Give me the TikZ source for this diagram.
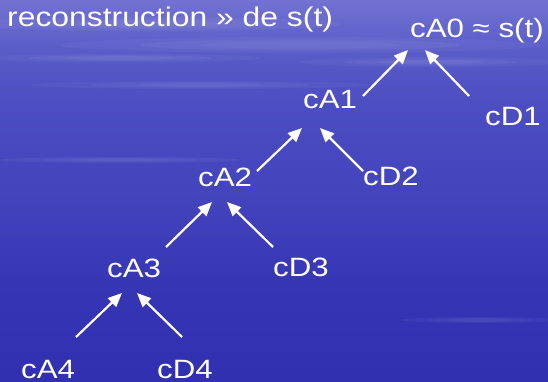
\documentclass[tikz,border=0pt]{standalone}
\usepackage{fontspec}
\setmainfont{Liberation Sans}
\usetikzlibrary{arrows.meta}
\definecolor{bgA}{HTML}{3030B0}
\definecolor{bgB}{HTML}{3434B4}
\definecolor{bgC}{HTML}{4343BC}
\definecolor{bgD}{HTML}{4C4EC2}
\definecolor{bgE}{HTML}{5A5CC8}
\definecolor{bgF}{HTML}{7272D2}
\pgfdeclareverticalshading{bgshade}{100bp}{color(0bp)=(bgA); color(25bp)=(bgA); color(35.7bp)=(bgB); color(48.8bp)=(bgC); color(61.9bp)=(bgD); color(68.5bp)=(bgE); color(75bp)=(bgF); color(100bp)=(bgF)}
\newcommand\sx[1]{\scalebox{1.18}[1]{#1}}
\tikzset{
  lbl/.style={text=white, inner sep=0pt, anchor=base west, font=\fontsize{26.5}{30}\selectfont},
  ttl/.style={text=white, inner sep=0pt, anchor=base west, font=\fontsize{27}{31}\selectfont},
  arr/.style={draw=white, line width=2.2pt, -{Triangle[length=14pt,width=12pt]}},
  streak/.style={fill=white, fill opacity=0.04, draw=none}
}
\begin{document}
\begin{tikzpicture}[x=1pt,y=-1pt]
\useasboundingbox (0,0) rectangle (548,382);
\shade[shading=bgshade] (0,0) rectangle (548,382);
% faint streaks
\foreach \s in {1,0.6,0.3}{
  \fill[streak] (300,45) ellipse ({200*\s+40} and {6*\s+2});
  \fill[streak] (150,24) ellipse ({160*\s+30} and {5*\s+2});
  \fill[streak] (430,62) ellipse ({110*\s+20} and {4*\s+1});
  \fill[streak] (120,58) ellipse ({120*\s+20} and {3*\s+1});
  \fill[streak] (200,85) ellipse ({150*\s+20} and {3*\s+1});
  \fill[streak] (120,160) ellipse ({100*\s+20} and {2*\s+1});
  \fill[streak] (480,320) ellipse ({70*\s+10} and {2*\s+1});
}
% title
\node[ttl] (title) at (7,27) {\sx{reconstruction » de s(t)}};
% labels
\node[lbl] (cA0) at (410,38) {\sx{cA0 ≈ s(t)}};
\node[lbl] (cA1) at (303,109) {\sx{cA1}};
\node[lbl] (cD1) at (485,126) {\sx{cD1}};
\node[lbl] (cA2) at (198,186) {\sx{cA2}};
\node[lbl] (cD2) at (363,185) {\sx{cD2}};
\node[lbl] (cA3) at (107,277) {\sx{cA3}};
\node[lbl] (cD3) at (273,276) {\sx{cD3}};
\node[lbl] (cA4) at (21,378) {\sx{cA4}};
\node[lbl] (cD4) at (157,378) {\sx{cD4}};
% arrow end points
\coordinate (a1s) at (363,96);  \coordinate (a1e) at (408,50);
\coordinate (d1s) at (469,96);  \coordinate (d1e) at (425,50);
\coordinate (a2s) at (257,171); \coordinate (a2e) at (302,128);
\coordinate (d2s) at (363,171); \coordinate (d2e) at (320,128);
\coordinate (a3s) at (166,247); \coordinate (a3e) at (212,202);
\coordinate (d3s) at (273,247); \coordinate (d3e) at (227,202);
\coordinate (a4s) at (76,337);  \coordinate (a4e) at (122,293);
\coordinate (d4s) at (182,337); \coordinate (d4e) at (137,293);
% arrows
\draw[arr] (a1s) -- (a1e);
\draw[arr] (d1s) -- (d1e);
\draw[arr] (a2s) -- (a2e);
\draw[arr] (d2s) -- (d2e);
\draw[arr] (a3s) -- (a3e);
\draw[arr] (d3s) -- (d3e);
\draw[arr] (a4s) -- (a4e);
\draw[arr] (d4s) -- (d4e);
\end{tikzpicture}
\end{document}
